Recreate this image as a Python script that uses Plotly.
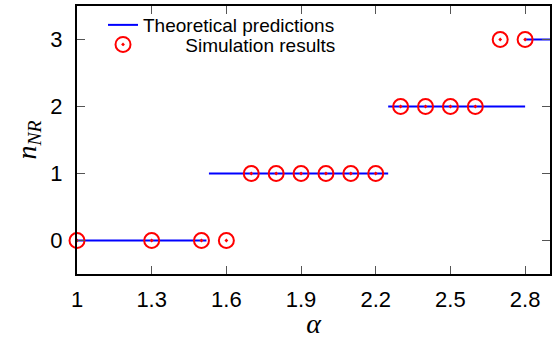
import plotly.graph_objects as go

# Theoretical step predictions: segment start/end alpha and level
theory_start = [1.0, 1.53, 2.25, 2.8]
theory_end = [1.52, 2.25, 2.8, 2.9]
theory_level = [0, 1, 2, 3]

# Simulation results
sim_alpha = [1.0, 1.3, 1.5, 1.6, 1.7, 1.8, 1.9, 2.0, 2.1, 2.2, 2.3, 2.4, 2.5, 2.6, 2.7, 2.8]
sim_n = [0, 0, 0, 0, 1, 1, 1, 1, 1, 1, 2, 2, 2, 2, 3, 3]

x_ticks = [1, 1.3, 1.6, 1.9, 2.2, 2.5, 2.8]
x_ticklabels = ["1", "1.3", "1.6", "1.9", "2.2", "2.5", "2.8"]
y_ticks = [0, 1, 2, 3]

lx, ly = [], []
for a, b, v in zip(theory_start, theory_end, theory_level):
    lx += [a, b, None]
    ly += [v, v, None]

fig = go.Figure()
fig.add_trace(go.Scatter(
    x=lx, y=ly, mode="lines", name="Theoretical predictions",
    line=dict(color="#0000ff", width=2), cliponaxis=True,
    legend="legend",
))
fig.add_trace(go.Scatter(
    x=sim_alpha, y=sim_n, mode="markers",
    name="\u00a0" * 8 + "Simulation results",
    marker=dict(symbol="circle-open-dot", size=15, color="#ff0000",
                line=dict(width=2, color="#ff0000")),
    cliponaxis=False,
    legend="legend2",
))

axis_common = dict(
    showline=True, linecolor="black", linewidth=2, mirror="ticks",
    ticks="inside", ticklen=8, tickwidth=1, tickcolor="#555555",
    showgrid=False, zeroline=False, automargin=False,
    tickfont=dict(family="Liberation Sans", size=22, color="black"),
)

legend_common = dict(
    xanchor="left", yanchor="middle",
    bgcolor="rgba(0,0,0,0)", borderwidth=0,
    font=dict(family="Liberation Sans", size=19, color="black"),
    itemwidth=30,
)

fig.update_layout(
    width=558, height=339,
    margin=dict(l=77, r=8, t=6, b=65),
    plot_bgcolor="white", paper_bgcolor="white",
    xaxis=dict(range=[1, 2.9], tickvals=x_ticks, ticktext=x_ticklabels,
               title=dict(text="<i>α</i>", font=dict(family="Liberation Serif", size=28, color="black"),
                          standoff=7),
               ticklabelstandoff=5, **axis_common),
    yaxis=dict(range=[-0.5, 3.5], tickvals=y_ticks,
               title=dict(text="<i>n</i><sub><i>NR</i></sub>",
                          font=dict(family="Liberation Serif", size=28, color="black"),
                          standoff=6),
               ticklabelstandoff=8, **axis_common),
    legend=dict(x=0.055, y=0.929, **legend_common),
    legend2=dict(x=0.055, y=0.856, **legend_common),
    showlegend=True,
)

fig.write_html("out.html")
